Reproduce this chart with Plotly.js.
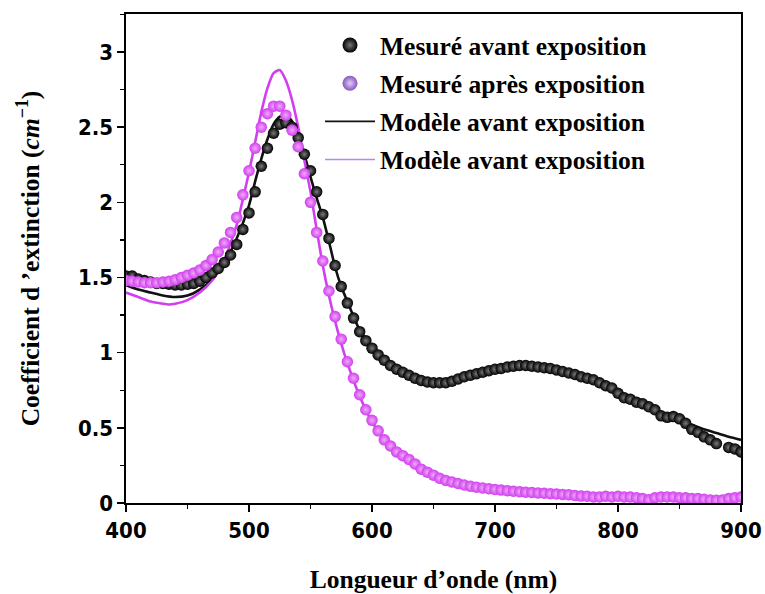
<!DOCTYPE html>
<html>
<head>
<meta charset="utf-8">
<script src="https://cdn.plot.ly/plotly-3.0.1.min.js"></script>
<style>html,body{margin:0;padding:0;background:#fff;}#chart{width:765px;height:594px;}</style>
</head>
<body>
<div id="chart"></div>
<script>
// Wavelengths of the measured points (nm)
const wlMeasured = [400,405,410,415,420,425,430,435,440,445,450,455,460,465,470,475,480,485,490,495,
  500,505,510,515,520,525,530,535,540,545,550,555,560,565,570,575,580,585,590,595,
  600,605,610,615,620,625,630,635,640,645,650,655,660,665,670,675,680,685,690,695,
  700,705,710,715,720,725,730,735,740,745,750,755,760,765,770,775,780,785,790,795,
  800,805,810,815,820,825,830,835,840,845,850,855,860,865,870,875,880,885,890,895,900];

// Mesuré avant exposition
const mesureAvant = [1.51,1.51,1.49,1.48,1.47,1.46,1.46,1.455,1.45,1.45,1.455,1.46,1.475,1.50,1.53,1.56,1.60,1.65,1.72,1.82,
  1.93,2.07,2.24,2.36,2.46,2.52,2.53,2.50,2.43,2.32,2.21,2.07,1.92,1.76,1.58,1.44,1.33,1.23,1.14,1.08,
  1.03,0.985,0.95,0.915,0.89,0.87,0.85,0.83,0.815,0.805,0.80,0.80,0.80,0.81,0.825,0.84,0.85,0.86,0.87,0.88,
  0.89,0.895,0.905,0.91,0.915,0.915,0.91,0.905,0.90,0.895,0.885,0.875,0.865,0.855,0.84,0.83,0.82,0.80,0.78,0.765,
  0.73,0.70,0.69,0.67,0.66,0.64,0.62,0.58,0.57,0.575,0.56,0.53,0.49,0.47,0.44,0.42,0.395,null,0.37,0.36,0.34];

// Mesuré après exposition
const mesureApres = [1.48,1.475,1.47,1.465,1.465,1.465,1.47,1.475,1.485,1.50,1.515,1.53,1.55,1.58,1.62,1.67,1.73,1.80,1.90,2.05,
  2.21,2.36,2.50,2.59,2.64,2.64,2.58,2.48,2.37,2.19,2.00,1.80,1.61,1.41,1.24,1.09,0.94,0.83,0.72,0.62,
  0.55,0.48,0.42,0.38,0.34,0.315,0.29,0.26,0.225,0.205,0.185,0.165,0.15,0.14,0.13,0.12,0.112,0.105,0.10,0.095,
  0.09,0.086,0.082,0.078,0.075,0.072,0.07,0.067,0.065,0.062,0.06,0.057,0.055,0.05,0.046,0.045,0.04,0.04,0.045,0.04,
  0.045,0.04,0.04,0.035,0.03,0.022,0.035,0.04,0.04,0.04,0.035,0.035,0.03,0.03,0.025,0.02,0.018,0.02,0.03,0.035,0.04];

// Modèle avant exposition
const wlModeleAvant = [400,410,420,430,440,450,460,470,480,490,500,505,510,515,520,525,530,535,540,545,550,555,560,565,570,575,580,
  590,600,610,620,630,640,650,660,670,680,690,700,710,720,730,740,750,760,770,780,790,800,810,820,830,840,850,860,870,880,890,900];
const modeleAvant = [1.45,1.42,1.40,1.38,1.37,1.38,1.42,1.49,1.60,1.76,1.98,2.14,2.29,2.42,2.52,2.57,2.58,2.54,2.45,2.32,2.17,2.03,1.90,1.74,1.57,1.44,1.34,
  1.15,1.04,0.95,0.89,0.85,0.82,0.805,0.805,0.82,0.845,0.87,0.89,0.905,0.915,0.915,0.905,0.89,0.865,0.84,0.81,0.77,0.725,0.69,0.655,0.62,0.585,0.55,0.52,0.49,0.465,0.44,0.42];

// Modèle après exposition (légende d'origine : « Modèle avant exposition »)
const wlModeleApres = [400,410,420,430,435,440,450,460,470,480,490,495,500,505,510,515,520,525,530,535,540,545,550,555,560,565,570,575,580,
  590,600,610,620,630,640,650,660,680,700,720,740,760,780,800,820,840,860,880,900];
const modeleApres = [1.40,1.37,1.34,1.325,1.32,1.325,1.35,1.40,1.48,1.62,1.85,2.02,2.20,2.40,2.60,2.76,2.86,2.88,2.81,2.68,2.50,2.28,2.07,1.82,1.58,1.38,1.21,1.06,0.93,
  0.71,0.54,0.42,0.34,0.28,0.225,0.185,0.15,0.11,0.09,0.075,0.063,0.053,0.045,0.038,0.032,0.028,0.024,0.02,0.018];

const legendLabels = ["Mesuré avant exposition","Mesuré après exposition","Modèle avant exposition","Modèle avant exposition"];
const xTickVals = [400,500,600,700,800,900];
const yTickVals = [0,0.5,1,1.5,2,2.5,3];
const yTickText = ["0","0.5","1","1.5","2","2.5","3"];

const BLACK = '#111111', MAG = '#d23ef0';
const serif = '"Liberation Serif","Times New Roman",serif';
const sans = '"DejaVu Sans Condensed","DejaVu Sans",Tahoma,sans-serif';

const traces = [
  // legend-only entries (legend colours differ from plotted ones in the original)
  {x:[null], y:[null], type:'scatter', mode:'markers', name:legendLabels[0], legendgroup:'a',
   marker:{size:15, color:'#000000', gradient:{type:'radial', color:'#777777'}, line:{width:0}}},
  {x:[null], y:[null], type:'scatter', mode:'markers', name:legendLabels[1], legendgroup:'b',
   marker:{size:15, color:'#8456c0', gradient:{type:'radial', color:'#e2cdf6'}, line:{width:0}}},
  {x:[null], y:[null], type:'scatter', mode:'lines', name:legendLabels[2], legendgroup:'c',
   line:{color:BLACK, width:1.6}},
  {x:[null], y:[null], type:'scatter', mode:'lines', name:legendLabels[3], legendgroup:'d',
   line:{color:'#b689ea', width:1.6}},
  // plotted data
  {x:wlModeleAvant, y:modeleAvant, type:'scatter', mode:'lines', showlegend:false,
   line:{color:BLACK, width:2.6, shape:'spline', smoothing:0.6}},
  {x:wlModeleApres, y:modeleApres, type:'scatter', mode:'lines', showlegend:false,
   line:{color:MAG, width:2.6, shape:'spline', smoothing:0.6}},
  {x:wlMeasured, y:mesureAvant, type:'scatter', mode:'markers', showlegend:false,
   marker:{size:11.5, color:'#000000', gradient:{type:'radial', color:'#7a7a7a'}, line:{width:0}}},
  {x:wlMeasured, y:mesureApres, type:'scatter', mode:'markers', showlegend:false,
   marker:{size:11.5, color:MAG, gradient:{type:'radial', color:'#eeaaf8'}, line:{width:0}}}
];

const layout = {
  width:765, height:594,
  margin:{l:126, r:24, t:14, b:91},
  paper_bgcolor:'#fff', plot_bgcolor:'#fff',
  showlegend:true,
  legend:{x:(320-126)/615, y:1-(8/489), xanchor:'left', yanchor:'top',
    bgcolor:'rgba(0,0,0,0)', borderwidth:0, itemwidth:50,
    traceorder:'grouped', tracegroupgap:2,
    font:{family:serif, size:25.5, color:'#000', weight:'bold'}},
  xaxis:{
    range:[400,900], showgrid:false, zeroline:false,
    showline:true, linecolor:'#000', linewidth:1.6, mirror:true,
    ticks:'outside', ticklen:7, tickwidth:1.6, tickcolor:'#000',
    tickvals:xTickVals, ticktext:xTickVals.map(String),
    minor:{dtick:50, ticks:'outside', ticklen:4, tickwidth:1.4, tickcolor:'#000', showgrid:false},
    tickfont:{family:sans, size:22, color:'#000', weight:'bold'},
    title:{text:'Longueur d’onde (nm)', standoff:32, font:{family:serif, size:25.5, color:'#000', weight:'bold'}}
  },
  yaxis:{
    range:[0,3.253], showgrid:false, zeroline:false,
    showline:true, linecolor:'#000', linewidth:1.6, mirror:true,
    ticks:'outside', ticklen:7, tickwidth:1.6, tickcolor:'#000',
    tickvals:yTickVals, ticktext:yTickText,
    minor:{dtick:0.25, ticks:'outside', ticklen:4, tickwidth:1.4, tickcolor:'#000', showgrid:false},
    tickfont:{family:sans, size:22, color:'#000', weight:'bold'},
    title:{text:'Coefficient d ’extinction (<i>cm</i><sup>−1</sup>)', standoff:31, font:{family:serif, size:25.5, color:'#000', weight:'bold'}}
  }
};

Plotly.newPlot('chart', traces, layout, {displayModeBar:false, staticPlot:true});
</script>
</body>
</html>
